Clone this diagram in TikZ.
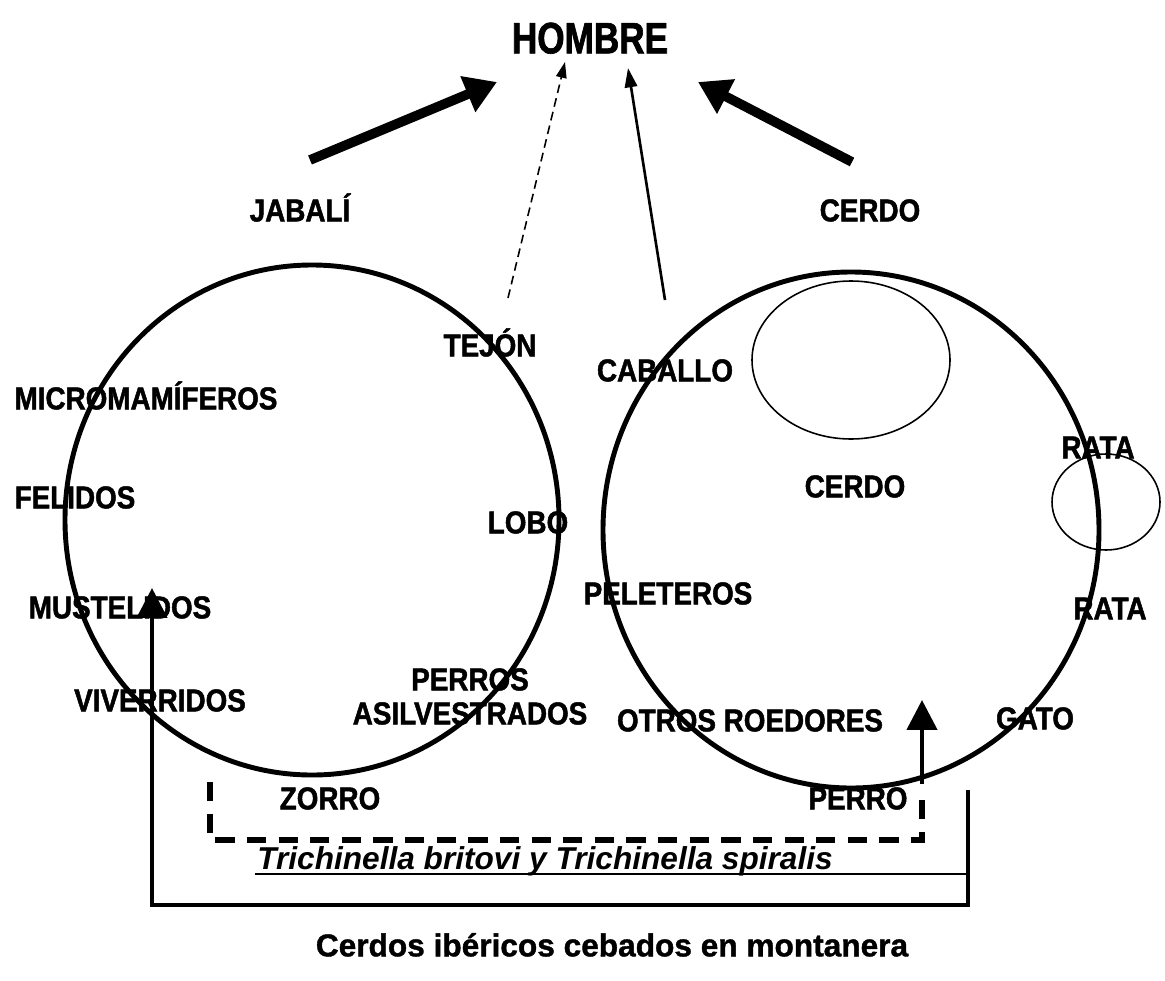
\documentclass[tikz,border=0pt]{standalone}
\usepackage{fontspec}
\setmainfont{Liberation Sans}[BoldFeatures={FakeBold=1.2}]
\newfontfamily\labfont[FakeStretch=0.88,BoldFeatures={FakeBold=1.5}]{Liberation Sans}
\newfontfamily\topfont[FakeStretch=0.8,BoldFeatures={FakeBold=1.5}]{Liberation Sans}
\usepackage{tikz}
\usetikzlibrary{arrows.meta}

\tikzset{
  bigarrow/.style={line width=5.5pt,-{Triangle[length=18pt,width=21pt]}},
  thinarrow/.style={line width=1.5pt,-{Triangle[length=11pt,width=7pt]}},
  dasharrow/.style={line width=0.9pt,dash pattern=on 5pt off 3pt,-{Triangle[length=9pt,width=6pt]}},
  upfoot/.style={line width=2.6pt,-{Triangle[length=17pt,width=17pt]}},
  setline/.style={line width=2.8pt},
  subset/.style={line width=0.9pt}
}

\begin{document}
\begin{tikzpicture}[x=0.02cm,y=-0.02cm]
  \useasboundingbox (0,0) rectangle (1165,980);

  % the two big circles and the small ones
  \draw[setline] (312,520) ellipse [x radius=247, y radius=255];
  \draw[setline] (851,530) ellipse [x radius=248, y radius=258];
  \draw[subset] (851,360) ellipse [x radius=99, y radius=79];
  \draw[subset] (1106,502) ellipse [x radius=54, y radius=48];

  \begin{scope}[every node/.style={inner sep=0pt,text height=12.9pt,text depth=0pt,
      font=\labfont\bfseries\fontsize{18}{18}\selectfont}]
    \node (hombre) at (590,42) {\topfont\bfseries\fontsize{25}{25}\selectfont HOMBRE};
    \node (jabali) at (300,210) {JABALÍ};
    \node (cerdoA) at (870,210) {CERDO};
    \node (tejon) at (490,345) {TEJÓN};
    \node (micro) at (146,398) {MICROMAMÍFEROS};
    \node (felidos) at (75,497) {FELIDOS};
    \node (lobo) at (528,522) {LOBO};
    \node (mustel) at (120,607) {MUSTELIDOS};
    \node (viverr) at (160,700) {VIVERRIDOS};
    \node (perros) at (470,679) {PERROS};
    \node (asilv) at (470,713) {ASILVESTRADOS};
    \node (zorro) at (330,798) {ZORRO};
    \node (caballo) at (665,370) {CABALLO};
    \node (cerdoB) at (855,486) {CERDO};
    \node (rataA) at (1098,447) {RATA};
    \node (rataB) at (1110,608) {RATA};
    \node (pelet) at (668,593) {PELETEROS};
    \node (otros) at (750,720) {OTROS ROEDORES};
    \node (gato) at (1035,718) {GATO};
    \node (perro) at (858,798) {PERRO};
  \end{scope}

  \begin{scope}[every node/.style={inner sep=0pt,text height=12.9pt,text depth=0pt,
      font=\bfseries\fontsize{18}{18}\selectfont}]
    \node (trich) at (545,858) {\itshape Trichinella britovi y Trichinella spiralis};
    \node (montan) at (612,945) {Cerdos ibéricos cebados en montanera};
  \end{scope}

  \coordinate (jabT) at (310,160);
  \coordinate (jabH) at (497,82);
  \coordinate (cerT) at (852,162);
  \coordinate (cerH) at (698,82);
  \coordinate (tejT) at (508,298);
  \coordinate (tejH) at (565,62);
  \coordinate (cabT) at (665,300);
  \coordinate (cabH) at (628,68);

  \draw[bigarrow] (jabT) -- (jabH);
  \draw[bigarrow] (cerT) -- (cerH);
  \draw[dasharrow] (tejT) -- (tejH);
  \draw[thinarrow] (cabT) -- (cabH);

  % bottom bracket
  \coordinate (brR) at (968,790);
  \coordinate (brRB) at (968,905);
  \coordinate (brLB) at (152,905);
  \coordinate (brTip) at (152,588);
  \draw[upfoot] (brR) -- (brRB) -- (brLB) -- (brTip);
  \coordinate (ulL) at (255,874);
  \coordinate (ulR) at (968,874);
  \draw[line width=1.2pt] (ulL) -- (ulR);

  % dashed route up to the pig
  \coordinate (dbA) at (210,782);
  \coordinate (dbB) at (210,840);
  \coordinate (dbC) at (922,840);
  \coordinate (dbD) at (922,792);
  \coordinate (dbE) at (922,784);
  \coordinate (dbTip) at (922,700);
  \draw[line width=3.3pt,dash pattern=on 11pt off 7pt] (dbA) -- (dbB) -- (dbC) -- (dbD);
  \draw[upfoot] (dbE) -- (dbTip);
\end{tikzpicture}
\end{document}
